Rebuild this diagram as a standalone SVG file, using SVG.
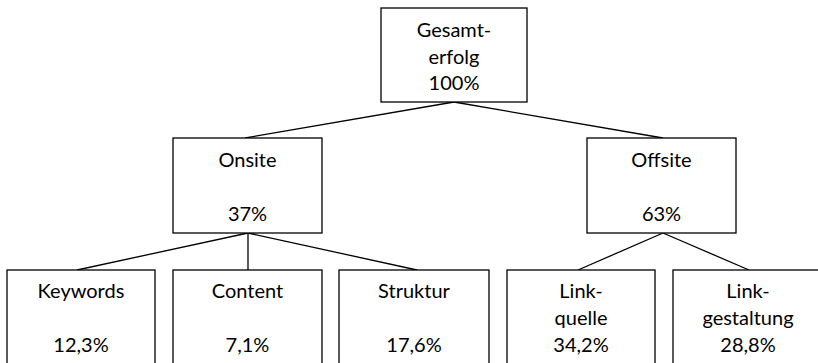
<svg xmlns="http://www.w3.org/2000/svg" width="818" height="363" viewBox="0 0 818 363">
<style>
.box{fill:#fff;stroke:#000;stroke-width:1.3}
.t{font-family:Lato,"Liberation Sans",sans-serif;font-size:20px;fill:#000;text-anchor:middle}
.c{stroke:#000;stroke-width:1.3;fill:none}
</style>
<rect width="818" height="363" fill="#fff"/>
<g id="connectors">
<line class="c" x1="454" y1="102" x2="245" y2="138"/>
<line class="c" x1="454" y1="102" x2="663" y2="138"/>
<line class="c" x1="248" y1="233" x2="77" y2="270"/>
<line class="c" x1="248" y1="233" x2="248" y2="270"/>
<line class="c" x1="248" y1="233" x2="417" y2="270"/>
<line class="c" x1="663" y1="233" x2="578" y2="270"/>
<line class="c" x1="663" y1="233" x2="749" y2="270"/>
</g>
<g id="gesamterfolg">
<rect class="box" x="381" y="8" width="146" height="94"/>
<text class="t" x="454" y="37">Gesamt-</text>
<text class="t" x="454" y="64">erfolg</text>
<text class="t" x="454" y="90">100%</text>
</g>
<g id="onsite">
<rect class="box" x="173" y="138" width="149" height="95"/>
<text class="t" x="247.5" y="167">Onsite</text>
<text class="t" x="247.5" y="221">37%</text>
</g>
<g id="offsite">
<rect class="box" x="587" y="138" width="149" height="95"/>
<text class="t" x="661.5" y="167">Offsite</text>
<text class="t" x="661.5" y="221">63%</text>
</g>
<g id="keywords">
<rect class="box" x="7" y="270" width="148" height="110"/>
<text class="t" x="81" y="298">Keywords</text>
<text class="t" x="81" y="352">12,3%</text>
</g>
<g id="content">
<rect class="box" x="173" y="270" width="149" height="110"/>
<text class="t" x="247.5" y="298">Content</text>
<text class="t" x="247.5" y="352">7,1%</text>
</g>
<g id="struktur">
<rect class="box" x="339" y="270" width="150" height="110"/>
<text class="t" x="414" y="298">Struktur</text>
<text class="t" x="414" y="352">17,6%</text>
</g>
<g id="linkquelle">
<rect class="box" x="507" y="270" width="148" height="110"/>
<text class="t" x="581" y="298">Link-</text>
<text class="t" x="581" y="325">quelle</text>
<text class="t" x="581" y="352">34,2%</text>
</g>
<g id="linkgestaltung">
<rect class="box" x="673" y="270" width="150" height="110"/>
<text class="t" x="748" y="298">Link-</text>
<text class="t" x="748" y="325">gestaltung</text>
<text class="t" x="748" y="352">28,8%</text>
</g>
</svg>
